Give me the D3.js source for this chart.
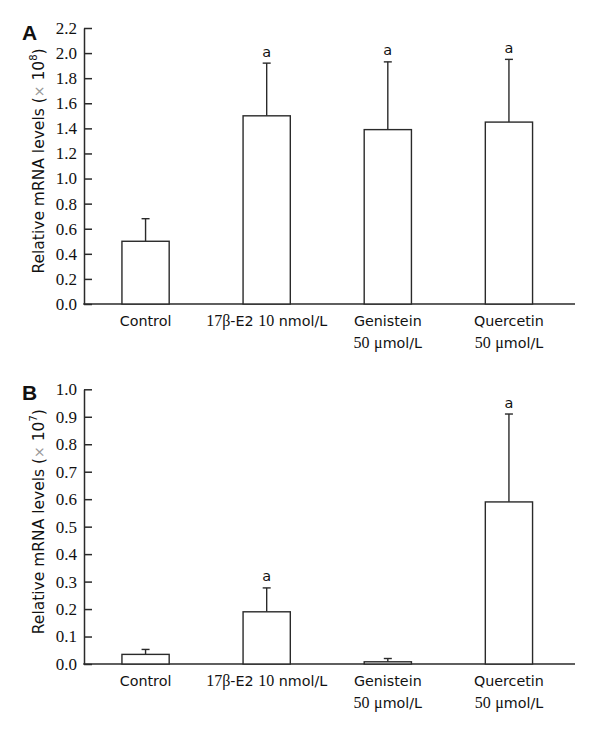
<!DOCTYPE html>
<html>
<head>
<meta charset="utf-8">
<script src="https://cdn.jsdelivr.net/npm/d3@7"></script>
<style>
  html, body { margin: 0; padding: 0; background: #fff; }
  svg { display: block; }
</style>
</head>
<body>
<div id="chart"></div>
<script>
// ---------- data ----------
const categories = ["Control", "17β-E2 10 nmol/L", "Genistein 50 μmol/L", "Quercetin 50 μmol/L"];
const labelLines = [["Control"], ["17β-E2 10 nmol/L"], ["Genistein", "50 μmol/L"], ["Quercetin", "50 μmol/L"]];

const valuesA = [0.50, 1.50, 1.39, 1.45];
const errorsA = [0.18, 0.42, 0.54, 0.50];
const sigA = ["", "a", "a", "a"];
const ticksA = [0.0, 0.2, 0.4, 0.6, 0.8, 1.0, 1.2, 1.4, 1.6, 1.8, 2.0, 2.2];
const exponentA = "8";

const valuesB = [0.035, 0.19, 0.008, 0.59];
const errorsB = [0.018, 0.087, 0.012, 0.32];
const sigB = ["", "a", "", "a"];
const ticksB = [0.0, 0.1, 0.2, 0.3, 0.4, 0.5, 0.6, 0.7, 0.8, 0.9, 1.0];
const exponentB = "7";

// ---------- layout ----------
const W = 600, H = 733;
const SANS = "DejaVu Sans, Verdana, sans-serif";
const SERIF = "Liberation Serif, Times New Roman, serif";
const INK = "#111";
const LINE = "#2a2a2a";

const svg = d3.select("#chart").append("svg")
  .attr("width", W).attr("height", H)
  .attr("viewBox", `0 0 ${W} ${H}`);

const x = d3.scaleBand().domain(categories)
  .range([85, 569.5]).paddingInner(0.61).paddingOuter(0.305);

function mixedText(sel, str) {
  // digits (not following a letter) and Greek letters in serif, rest in sans
  const re = /(\d+|[βμ])/g;
  let last = 0, m;
  const parts = [];
  while ((m = re.exec(str)) !== null) {
    if (m.index > last) parts.push({t: str.slice(last, m.index), serif: false});
    const prev = str[m.index - 1];
    const afterLetter = prev && /[A-Za-z]/.test(prev) && /\d/.test(m[0]);
    parts.push({t: m[0], serif: !afterLetter});
    last = m.index + m[0].length;
  }
  if (last < str.length) parts.push({t: str.slice(last), serif: false});
  parts.forEach(p => {
    sel.append("tspan")
      .attr("font-family", p.serif ? SERIF : SANS)
      .attr("font-size", p.serif ? 16 : 14.3)
      .text(p.t);
  });
}

function drawPanel(cfg) {
  const g = svg.append("g");
  const y = d3.scaleLinear().domain(cfg.domain).range([cfg.y0, cfg.y1]);
  const axisX = 84, axisEnd = 575;

  // panel letter
  g.append("text")
    .attr("x", 22).attr("y", cfg.letterY)
    .attr("font-family", "Liberation Sans, Arial, sans-serif")
    .attr("font-weight", "bold").attr("font-size", 21)
    .attr("fill", INK).text(cfg.letter);

  // y axis
  const yAxis = d3.axisLeft(y).tickValues(cfg.ticks)
    .tickFormat(d3.format(".1f"))
    .tickSizeInner(-8).tickSizeOuter(0).tickPadding(7);
  const ya = g.append("g").attr("transform", `translate(${axisX},0)`).call(yAxis);
  ya.select(".domain").attr("stroke", LINE).attr("stroke-width", 1.5);
  ya.selectAll(".tick line").attr("stroke", LINE).attr("stroke-width", 1.5);
  ya.selectAll(".tick text")
    .attr("font-family", SERIF).attr("font-size", 17)
    .attr("fill", INK);

  // x axis line
  g.append("line")
    .attr("x1", axisX - 0.75).attr("x2", axisEnd)
    .attr("y1", y(0)).attr("y2", y(0))
    .attr("stroke", LINE).attr("stroke-width", 1.5);

  // y title
  const cy = (y.range()[0] + y.range()[1]) / 2 - 5;
  const t = g.append("text")
    .attr("transform", `translate(44,${cy}) rotate(-90)`)
    .attr("text-anchor", "middle")
    .attr("font-family", SANS).attr("font-size", 15.5)
    .attr("fill", INK);
  t.append("tspan").text("Relative mRNA levels (");
  t.append("tspan").attr("fill", "#999").attr("font-size", 14).text("×");
  t.append("tspan").text(" 10");
  t.append("tspan").attr("font-size", 10).attr("dy", -7).text(cfg.exponent);
  t.append("tspan").attr("dy", 7).text(")");

  const data = categories.map((c, i) => ({c, v: cfg.values[i], e: cfg.errors[i], s: cfg.sig[i], lines: labelLines[i]}));
  const cx = d => x(d.c) + x.bandwidth() / 2;

  // error bars
  g.selectAll(".err").data(data).join("line")
    .attr("x1", cx).attr("x2", cx)
    .attr("y1", d => y(d.v)).attr("y2", d => y(d.v + d.e))
    .attr("stroke", LINE).attr("stroke-width", 1.4);
  g.selectAll(".cap").data(data).join("line")
    .attr("x1", d => cx(d) - 4).attr("x2", d => cx(d) + 4)
    .attr("y1", d => y(d.v + d.e)).attr("y2", d => y(d.v + d.e))
    .attr("stroke", LINE).attr("stroke-width", 1.4);

  // bars
  g.selectAll(".bar").data(data).join("rect")
    .attr("x", d => x(d.c)).attr("width", x.bandwidth())
    .attr("y", d => y(d.v)).attr("height", d => y(0) - y(d.v))
    .attr("fill", "#fff").attr("stroke", LINE).attr("stroke-width", 1.4);

  // significance letters
  g.selectAll(".sig").data(data.filter(d => d.s)).join("text")
    .attr("x", cx).attr("y", d => y(d.v + d.e) - 6.5)
    .attr("text-anchor", "middle")
    .attr("font-family", SANS).attr("font-size", 14.5)
    .attr("fill", INK).text(d => d.s);

  // category labels
  data.forEach(d => {
    d.lines.forEach((ln, j) => {
      const tx = g.append("text")
        .attr("x", cx(d)).attr("y", y(0) + 21.5 + j * 22)
        .attr("text-anchor", "middle")
        .attr("fill", INK);
      mixedText(tx, ln);
    });
  });
}

drawPanel({letter: "A", letterY: 40, domain: [0, 2.2], y0: 304, y1: 28,
  values: valuesA, errors: errorsA, sig: sigA, ticks: ticksA, exponent: exponentA});
drawPanel({letter: "B", letterY: 400, domain: [0, 1.0], y0: 664, y1: 389.3,
  values: valuesB, errors: errorsB, sig: sigB, ticks: ticksB, exponent: exponentB});
</script>
</body>
</html>
